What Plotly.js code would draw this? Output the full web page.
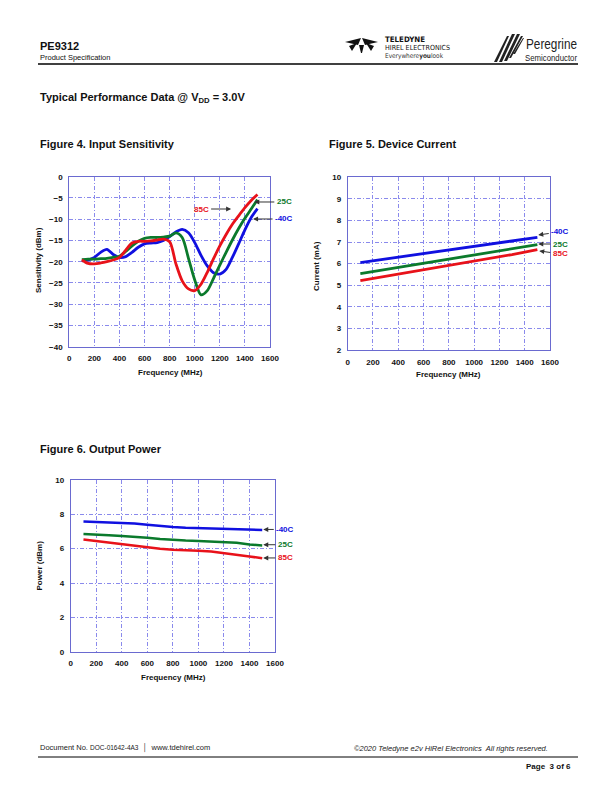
<!DOCTYPE html>
<html><head><meta charset="utf-8">
<script src="https://cdn.plot.ly/plotly-3.0.1.min.js"></script>
<style>
html,body{margin:0;padding:0;background:#fff;}
#wrap{position:relative;width:612px;height:792px;overflow:hidden;}
#chart{position:absolute;left:0;top:0;width:612px;height:792px;}
#logos{position:absolute;left:0;top:0;pointer-events:none;}
</style></head>
<body><div id="wrap"><div id="chart"></div>
<svg id="logos" width="612" height="80" xmlns="http://www.w3.org/2000/svg">
  <!-- Teledyne symbol -->
  <g fill="#111">
    <path d="M345,42 L361,38 L358,45 Z"/>
    <path d="M378,42 L362,38 L365,45 Z"/>
    <path d="M359,45 L364,45 L362,53 L361,53 Z"/>
    <path d="M349,46 L357,43 L352,51 Z"/>
    <path d="M374,46 L366,43 L371,51 Z"/>
  </g>
  <text x="385" y="42" font-family="DejaVu Sans Condensed, Liberation Sans Narrow, Liberation Sans" font-stretch="condensed" font-weight="bold" font-size="7.5" textLength="40" lengthAdjust="spacingAndGlyphs" fill="#111">TELEDYNE</text>
  <text x="385" y="50" font-family="DejaVu Sans Condensed, Liberation Sans Narrow, Liberation Sans" font-stretch="condensed" font-size="7" textLength="65" lengthAdjust="spacingAndGlyphs" fill="#111">HIREL ELECTRONICS</text>
  <text x="385" y="58" font-family="DejaVu Sans Condensed, Liberation Sans Narrow, Liberation Sans" font-stretch="condensed" font-size="6.5" textLength="58" lengthAdjust="spacingAndGlyphs" fill="#333">Everywhere<tspan font-weight="bold">you</tspan>look</text>
  <!-- Peregrine stripes -->
  <g fill="#222">
    <path d="M494,62 L507,36 L509,36 L497,62 Z"/>
    <path d="M499,62 L512,34 L515,34 L502,62 Z"/>
    <path d="M504,61 L517,34 L520,34 L507,61 Z"/>
    <path d="M509,58 L521,36 L523,36 L511,58 Z"/>
    <path d="M513,54 L523,38 L524,38 L515,54 Z"/>
  </g>
  <text x="526" y="49" font-family="Liberation Sans Narrow, Liberation Sans, Arial" font-size="14" textLength="51" lengthAdjust="spacingAndGlyphs" fill="#222">Peregrine</text>
  <text x="525" y="61" font-family="Liberation Sans Narrow, Liberation Sans, Arial" font-size="8.5" textLength="52" lengthAdjust="spacingAndGlyphs" fill="#222">Semiconductor</text>
</svg>
</div>
<script>
// ---------- data ----------
const freq4 = [100,150,200,250,300,350,400,450,500,550,600,650,700,750,800,850,900,950,1000,1050,1100,1150,1200,1250,1300,1350,1400,1450,1500];
const sens_m40 = [-19.8,-19.6,-19.0,-17.8,-17.1,-18.3,-19.0,-18.8,-17.8,-16.6,-15.8,-15.6,-15.5,-15.0,-14.1,-13.0,-12.4,-13.2,-15.5,-18.5,-21.0,-22.6,-22.9,-21.8,-19.0,-15.8,-12.5,-9.6,-7.5];
const sens_25  = [-19.5,-19.4,-19.4,-19.3,-19.2,-19.0,-18.7,-17.6,-16.3,-15.2,-14.5,-14.3,-14.3,-14.2,-14.0,-13.2,-14.3,-19.2,-24.3,-27.8,-26.8,-23.9,-20.8,-17.8,-14.9,-12.2,-9.8,-7.6,-5.4];
const sens_85  = [-19.6,-20.4,-20.5,-20.3,-20.0,-19.6,-19.0,-17.3,-15.6,-15.2,-15.2,-15.1,-14.9,-14.7,-15.3,-20.5,-24.5,-26.4,-26.8,-25.3,-22.5,-19.3,-16.3,-13.6,-11.2,-9.2,-7.3,-5.6,-4.2];

const freq5 = [100,300,500,700,900,1100,1300,1500];
const cur_m40 = [6.05,6.22,6.38,6.55,6.72,6.88,7.05,7.22];
const cur_25  = [5.54,5.73,5.92,6.11,6.30,6.48,6.68,6.88];
const cur_85  = [5.21,5.41,5.62,5.83,6.03,6.22,6.42,6.65];

const freq6 = [100,200,300,400,500,600,700,800,900,1000,1100,1200,1300,1400,1500];
const pow_m40 = [7.59,7.57,7.53,7.50,7.47,7.40,7.32,7.26,7.22,7.20,7.18,7.16,7.15,7.10,7.09];
const pow_25  = [6.85,6.83,6.78,6.74,6.70,6.64,6.56,6.50,6.47,6.45,6.43,6.39,6.35,6.25,6.19];
const pow_85  = [6.54,6.45,6.33,6.23,6.16,6.08,6.00,5.94,5.92,5.88,5.83,5.75,5.65,5.55,5.44];

const xTicks = [0,200,400,600,800,1000,1200,1400,1600];
const y4Ticks = [-40,-35,-30,-25,-20,-15,-10,-5,0];
const y5Ticks = [2,3,4,5,6,7,8,9,10];
const y6Ticks = [0,2,4,6,8,10];
const seriesNames = ['-40C','25C','85C'];

// ---------- styling ----------
const W = 612, H = 792;
const PX = x => x / W, PY = y => 1 - y / H;
const C = {m40:'#1010e0', t25:'#0b7a2c', t85:'#e8121a'};
const FONT = 'Liberation Sans, Arial, sans-serif';
const tickFont = {family: FONT, size: 8, color: '#111', weight: 'bold'};

function axis(domain, range, ticks, anchor) {
  return {
    domain: domain, range: range, tickvals: ticks, anchor: anchor,
    showgrid: true, gridcolor: '#8a8aec', griddash: '4px,2px,1px,2px', gridwidth: 1,
    zeroline: false, showline: true, linecolor: '#6a6ad0', linewidth: 1, mirror: true,
    ticks: 'outside', ticklen: 4, tickcolor: 'rgba(0,0,0,0)', tickfont: tickFont,
    fixedrange: true
  };
}

function tr(x, y, color, xa, ya, w, shape) {
  return {x: x, y: y, xaxis: xa, yaxis: ya, type: 'scatter', mode: 'lines',
    line: {color: color, width: w, shape: shape || 'spline', smoothing: 0.8},
    hoverinfo: 'skip', showlegend: false};
}

const data = [
  tr(freq4, sens_m40, C.m40, 'x', 'y', 2.8),
  tr(freq4, sens_25,  C.t25, 'x', 'y', 2.8),
  tr(freq4, sens_85,  C.t85, 'x', 'y', 2.8),
  tr(freq5, cur_m40, C.m40, 'x2', 'y2', 2.8, 'linear'),
  tr(freq5, cur_25,  C.t25, 'x2', 'y2', 2.8, 'linear'),
  tr(freq5, cur_85,  C.t85, 'x2', 'y2', 2.8, 'linear'),
  tr(freq6, pow_m40, C.m40, 'x3', 'y3', 2.5, 'linear'),
  tr(freq6, pow_25,  C.t25, 'x3', 'y3', 2.5, 'linear'),
  tr(freq6, pow_85,  C.t85, 'x3', 'y3', 2.5, 'linear')
];

function txt(x, y, text, opts) {
  return Object.assign({xref: 'paper', yref: 'paper', x: PX(x), y: PY(y), text: text,
    showarrow: false, xanchor: 'left', yanchor: 'middle',
    font: {family: FONT, size: 8, color: '#111'}}, opts || {});
}
function lab(xa, ya, x, y, text, color, ax, ay) {
  return {xref: xa, yref: ya, x: x, y: y, text: '<b>' + text + '</b>', showarrow: true,
    arrowhead: 2, arrowsize: 1, arrowwidth: 1, arrowcolor: '#333', standoff: 0, startstandoff: 1,
    ax: ax, ay: ay, font: {family: FONT, size: 8, color: color}};
}

const annotations = [
  // header
  txt(38, 46, '<b>PE9312</b>', {font: {family: FONT, size: 11, color: '#111'}}),
  txt(38, 57.5, 'Product Specification', {font: {family: FONT, size: 7.5, color: '#111'}}),
  txt(38, 98, '<b>Typical Performance Data @ V<sub>DD</sub> = 3.0V</b>', {font: {family: FONT, size: 11, color: '#111'}}),
  txt(38, 144, '<b>Figure 4. Input Sensitivity</b>', {font: {family: FONT, size: 11, color: '#111'}}),
  txt(327, 144, '<b>Figure 5. Device Current</b>', {font: {family: FONT, size: 11, color: '#111'}}),
  txt(38, 449, '<b>Figure 6. Output Power</b>', {font: {family: FONT, size: 11, color: '#111'}}),
  // axis titles
  txt(170, 372, '<b>Frequency (MHz)</b>', {xanchor: 'center'}),
  txt(449, 374, '<b>Frequency (MHz)</b>', {xanchor: 'center'}),
  txt(173, 677, '<b>Frequency (MHz)</b>', {xanchor: 'center'}),
  txt(38, 260, '<b>Sensitivity (dBm)</b>', {xanchor: 'center', textangle: -90}),
  txt(316, 266, '<b>Current (mA)</b>', {xanchor: 'center', textangle: -90}),
  txt(38.5, 566, '<b>Power (dBm)</b>', {xanchor: 'center', textangle: -90}),
  // series labels fig 4
  lab('x', 'y', 1290, -7.6, seriesNames[2], C.t85, -30, 0),
  lab('x', 'y', 1475, -5.95, seriesNames[1], C.t25, 30, 0),
  lab('x', 'y', 1465, -9.95, seriesNames[0], C.m40, 31, 0),
  // fig 5
  lab('x2', 'y2', 1507, 7.33, seriesNames[0], C.m40, 22, -3),
  lab('x2', 'y2', 1507, 6.91, seriesNames[1], C.t25, 22, 0),
  lab('x2', 'y2', 1515, 6.59, seriesNames[2], C.t85, 21, 3),
  // fig 6
  lab('x3', 'y3', 1508, 7.12, seriesNames[0], C.m40, 22, 0),
  lab('x3', 'y3', 1508, 6.23, seriesNames[1], C.t25, 22, 0),
  lab('x3', 'y3', 1508, 5.46, seriesNames[2], C.t85, 22, 0),
  // footer
  txt(38, 748, 'Document No. <span style="font-size:6.5px">DOC-01642-4A3</span>  \u2502  www.tdehirel.com', {font: {family: FONT, size: 7.5, color: '#222'}}),
  txt(550, 748, '<i>\u00A92020 Teledyne e2v HiRel Electronics  All rights reserved.</i>', {xanchor: 'right', font: {family: FONT, size: 7.5, color: '#222'}}),
  txt(573, 766, '<b>Page  3 of 6</b>', {xanchor: 'right', font: {family: FONT, size: 8, color: '#111'}})
];

const shapes = [
  {type: 'line', xref: 'paper', yref: 'paper', x0: PX(38), x1: PX(578), y0: PY(64), y1: PY(64), line: {color: '#000', width: 1.3}},
  {type: 'line', xref: 'paper', yref: 'paper', x0: PX(38), x1: PX(578), y0: PY(757), y1: PY(757), line: {color: '#000', width: 1}}
];

const layout = {
  width: W, height: H, margin: {l: 0, r: 0, t: 0, b: 0},
  paper_bgcolor: '#fff', plot_bgcolor: '#fff', showlegend: false,
  xaxis:  axis([PX(69.3), PX(270)],  [0, 1600], xTicks, 'y'),
  yaxis:  axis([PY(346.7), PY(176.7)], [-40, 0], y4Ticks, 'x'),
  xaxis2: axis([PX(347.7), PX(550)], [0, 1600], xTicks, 'y2'),
  yaxis2: axis([PY(350), PY(177.3)], [2, 10], y5Ticks, 'x2'),
  xaxis3: axis([PX(70.7), PX(275)],  [0, 1600], xTicks, 'y3'),
  yaxis3: axis([PY(651.7), PY(480)], [0, 10], y6Ticks, 'x3'),
  annotations: annotations, shapes: shapes
};

Plotly.newPlot('chart', data, layout, {staticPlot: true, displayModeBar: false});
</script>
</body></html>
